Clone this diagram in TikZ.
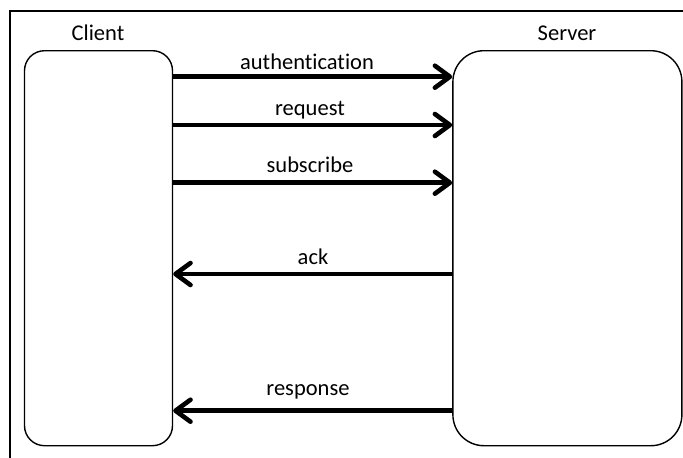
\documentclass[tikz,border=0pt]{standalone}
\usepackage{fontspec}
\setmainfont{Carlito}[Ligatures=NoCommon]
\usetikzlibrary{arrows.meta,positioning}

\begin{document}
\begin{tikzpicture}[x=1pt,y=-1pt,
      box/.style={draw,line width=1.4pt,inner sep=0pt,anchor=north west},
      msg/.style={line width=4.6pt,-{Straight Barb[length=15pt,width=22pt,round]}},
      lbl/.style={font=\fontsize{22.5}{27}\selectfont,inner sep=0pt}]
    \useasboundingbox (0,0) rectangle (683,458);

    % ================= frame =================
    \draw[line width=2pt] (683,11) -- (9.5,11) -- (9.5,458);

    % ================= the two parties =================
    \node[box,minimum width=148pt,minimum height=395pt,rounded corners=20pt]
      (client) at (23.8,50) {};
    \node[box,minimum width=229pt,minimum height=395pt,rounded corners=31pt]
      (server) at (452.2,50) {};
    \node[lbl] (clientlbl) at (98,33) {Client};
    \node[lbl] (serverlbl) at (567,33) {Server};

    % ================= messages =================
    \draw[msg] ([yshift=-26.7pt]client.north east) -- ([yshift=-26.7pt]server.north west);
    \node[lbl] (authlbl) at (307,62) {authentication};
    \draw[msg] ([yshift=-75pt]client.north east) -- ([yshift=-75pt]server.north west);
    \node[lbl] (reqlbl) at (310,110) {request};
    \draw[msg] ([yshift=-132.7pt]client.north east) -- ([yshift=-132.7pt]server.north west);
    \node[lbl] (sublbl) at (310,165) {subscribe};

    \draw[msg] ([yshift=-224pt]server.north west) -- ([yshift=-224pt]client.north east);
    \node[lbl] (acklbl) at (313,257) {ack};
    \draw[msg] ([yshift=-360.7pt]server.north west) -- ([yshift=-360.7pt]client.north east);
    \node[lbl] (resplbl) at (308,392) {response};
  \end{tikzpicture}
\end{document}
